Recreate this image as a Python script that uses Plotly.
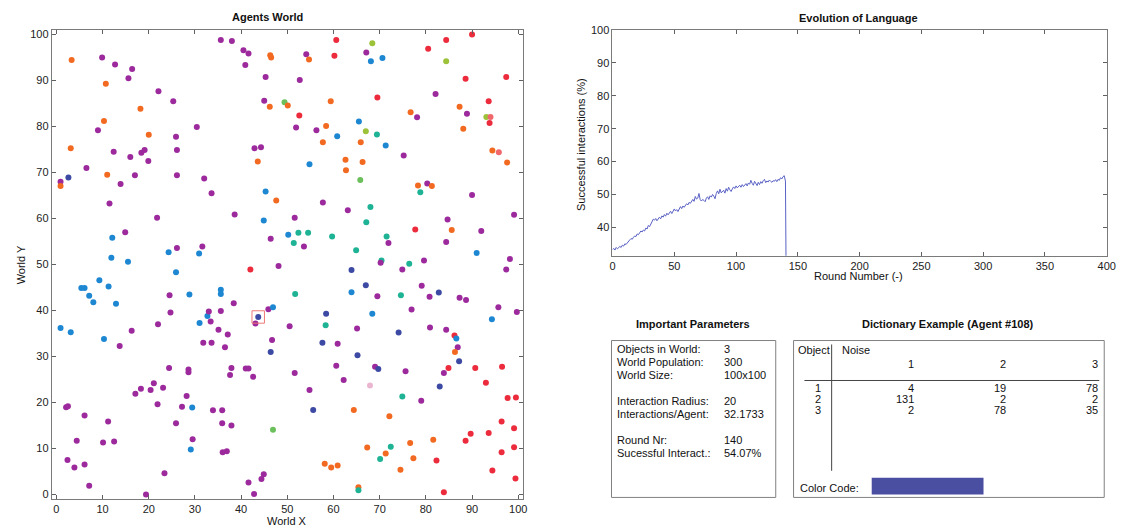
import plotly.graph_objects as go

# ---------------- data ----------------
# Agents world: x, y, word colour category
agent_x = [3.3,9.9,12.7,16.4,15.6,10.7,22.1,25.3,18.2,10.3,9.0,30.4,20.0,25.9,3.1,12.4,16.0,18.4,19.1,26.1,19.9,6.5,11.0,17.0,26.1,32.0,0.9,2.6,0.9,13.9,33.6,11.5,21.8,38.6,14.9,12.1,11.9,15.5,24.3,26.1,30.9,31.6,35.6,38.0,40.5,41.6,40.9,46.3,46.5,45.3,45.0,46.2,49.4,42.9,44.3,43.6,45.3,47.6,44.9,46.4,48.1,
           60.6,68.4,84.4,90.0,80.5,54.1,54.7,60.2,67.1,68.1,70.6,84.4,52.7,88.6,97.4,69.5,82.1,50.1,59.4,52.6,76.7,78.1,87.3,93.6,88.9,93.1,94.0,93.8,51.9,56.3,58.4,65.5,67.0,69.4,60.8,57.7,65.9,71.3,88.1,75.2,94.4,95.8,97.6,54.8,62.6,62.7,66.3,65.8,78.3,80.3,81.3,78.8,90.0,57.7,63.1,68.0,67.1,51.6,50.2,52.4,54.5,51.4,53.6,59.7,64.9,71.5,71.9,77.7,84.7,85.6,92.0,84.4,99.1,91.0,98.2,79.6,70.4,70.2,76.4,
           63.9,74.9,97.4,51.7,67.0,63.9,69.5,74.6,79.1,80.8,82.8,87.3,88.7,95.7,99.7,58.4,68.4,76.9,94.3,50.5,58.3,65.1,74.1,80.9,84.4,86.2,86.6,86.9,86.3,57.6,60.9,65.2,87.2,84.9,90.7,96.5,51.6,60.6,69.0,69.7,75.6,83.9,62.2,67.9,83.0,93.0,54.8,74.9,79.0,97.7,99.5,55.6,64.4,72.1,96.4,89.7,93.6,99.1,88.6,81.6,76.6,67.3,72.4,71.3,70.1,77.3,82.3,96.4,99.1,58.1,59.5,60.9,74.5,94.4,99.4,65.4,65.4,83.9,
           42.0,25.9,9.3,11.3,5.4,6.1,7.1,8.0,12.9,24.5,28.8,35.6,35.6,38.4,0.9,3.1,10.3,24.7,22.0,16.3,13.7,31.0,32.7,33.0,33.4,35.6,35.1,37.1,31.8,33.6,36.5,43.7,43.1,45.9,46.9,46.7,46.4,24.4,28.6,28.6,37.9,37.6,41.0,41.6,42.6,21.1,18.3,20.4,23.1,17.1,28.2,21.9,27.2,29.4,2.1,2.5,6.1,11.2,25.9,33.9,35.9,35.9,37.9,46.9,4.4,10.1,12.5,29.5,29.1,36.0,36.9,2.4,3.9,6.1,7.1,23.4,19.4,41.6,44.9,44.4,42.8]
agent_y = [94.5,95.0,93.5,92.5,90.5,89.3,87.7,85.5,83.9,81.2,79.2,79.9,78.2,77.8,75.3,74.5,73.4,74.3,74.9,74.9,72.5,71.0,69.5,69.4,69.4,68.7,68.0,68.9,67.1,67.5,65.5,63.3,60.2,60.9,57.0,55.8,51.5,50.6,52.7,53.6,52.4,53.9,98.8,98.6,96.6,95.9,93.4,95.5,95.0,90.8,85.6,84.3,85.3,75.3,75.5,72.4,65.9,63.9,59.6,55.6,49.7,
           98.8,98.1,98.8,100.0,96.9,95.7,94.6,95.4,96.1,94.2,94.9,94.2,90.1,90.4,90.8,86.3,87.1,84.6,85.5,82.4,83.1,82.0,84.3,85.5,82.8,82.1,82.1,80.8,79.8,79.2,80.1,81.1,79.0,78.3,77.9,76.6,76.6,75.9,79.5,73.7,74.8,74.4,72.2,71.8,72.8,70.5,72.3,68.4,67.2,67.6,67.1,65.7,65.1,63.5,61.8,62.5,59.2,60.2,56.5,56.9,56.9,54.7,53.9,56.1,53.1,56.1,54.7,57.6,59.8,57.5,57.3,54.9,60.8,52.5,51.2,50.9,50.9,50.4,50.2,
           48.8,48.9,48.9,43.6,45.5,44.0,43.1,43.3,45.4,43.0,43.9,42.8,42.3,40.7,39.7,39.3,39.3,40.2,38.1,36.6,36.8,36.1,35.2,36.3,35.8,34.6,33.9,32.0,31.0,33.0,32.8,30.3,29.0,27.5,27.5,27.8,26.4,28.0,27.8,27.3,26.8,26.4,24.9,23.7,23.5,24.3,22.7,21.3,20.4,21.0,21.1,18.4,18.4,17.0,15.9,13.2,13.4,14.4,11.7,11.9,11.2,10.2,10.4,8.9,7.7,7.9,7.4,9.2,10.3,6.7,5.9,6.3,5.4,5.2,3.5,1.6,0.9,0.5,
           48.9,48.3,46.6,45.2,44.9,44.9,43.2,41.8,41.5,43.3,43.5,44.5,43.6,41.6,36.2,35.3,33.8,39.6,37.0,35.6,32.3,37.3,38.8,39.8,37.6,39.9,35.8,34.8,33.0,33.0,32.0,38.6,37.2,40.3,40.7,33.6,31.0,27.5,27.2,26.6,27.5,26.0,27.4,27.4,25.6,24.2,23.0,22.7,23.2,21.9,21.4,19.6,19.1,18.9,19.0,19.2,17.2,15.9,15.5,18.3,18.3,15.5,15.0,14.1,11.7,11.3,11.5,12.0,9.8,9.2,9.4,7.5,5.9,6.5,1.9,4.6,0.0,2.6,4.4,3.4,0.1]
agent_word = list(
    "OPPPPOPPOO" "PPOPOPPPPP" "PPOPPPPIOP" "PPPPPBBBBP" "BPPPPPPOOP" "POGPPOBOBP" "P"
    "RYRRRPORPB" "BYPRRRPOOR" "OPORPYSRPP" "OBYTBOOBOP" "OSOBOOOGOP" "OTPPPTTPBT" "TTPTTTPRPO" "PPPBPPTPT"
    "IPPTIBPTPP" "IPPPPIBPBP" "TPIPPRBPOI" "PIIRRRPPPI" "PPPKIRPTPR" "RIOORRRRRO" "OOTOTORRRO" "OOORROTR"
    "RBBBBBBBBP" "BBBPBBBPPP" "PBBPPPPPPP" "PIPPBPIPPP" "PPPPPPPPPP" "PPPBPPPPPP" "PPPGPPPPBP" "PPPPPPPPPP" "P")

selected_agent = (43.7, 38.6)

# Evolution of language: success rate per round
rounds = list(range(0, 142))
success = [33.2,33.6,33.1,33.9,33.5,33.8,34.2,33.9,34.6,34.3,35.0,
           34.8,35.4,35.9,36.2,36.6,36.4,37.0,37.4,37.2,38.0,
           37.8,38.4,38.9,38.6,39.2,38.9,39.8,39.5,40.6,40.2,
           41.0,41.8,42.5,42.2,42.7,42.0,42.4,43.1,42.6,43.5,
           43.1,43.9,43.4,44.3,43.8,44.6,44.9,44.2,45.1,45.6,
           45.0,45.4,44.8,45.9,46.3,45.7,46.5,46.1,46.9,47.2,
           46.8,47.6,47.3,48.0,48.5,47.9,49.4,48.6,48.9,50.3,
           48.4,48.0,48.5,48.2,47.8,48.9,49.3,48.5,49.6,49.2,
           50.0,49.5,48.7,50.3,51.1,50.2,51.6,50.5,50.9,51.3,
           50.4,51.8,51.0,52.2,51.4,50.9,51.7,52.3,51.8,52.6,
           52.0,52.5,52.8,52.2,53.0,52.4,52.9,53.3,52.6,53.5,
           53.1,54.3,53.4,52.8,54.0,53.2,52.7,53.7,53.0,53.9,
           53.4,54.2,54.6,53.6,54.1,53.8,54.4,54.0,53.7,54.2,
           54.0,54.5,53.9,54.6,54.3,55.1,54.7,55.4,55.7,54.07,
           0.0]

# Parameters panel
param_labels = ["Objects in World:", "World Population:", "World Size:",
                "Interaction Radius:", "Interactions/Agent:",
                "Round Nr:", "Sucessful Interact.:"]
param_values = ["3", "300", "100x100", "20", "32.1733", "140", "54.07%"]

# Dictionary of agent #108
dict_objects = ["1", "2", "3"]
dict_words = ["1", "2", "3"]
dict_counts = [[4, 19, 78],
               [131, 2, 2],
               [2, 78, 35]]

world_ticks = list(range(0, 101, 10))
round_ticks = list(range(0, 401, 50))
success_ticks = list(range(40, 101, 10))

# ---------------- style ----------------
W, H = 1135, 531
FONT = "Liberation Sans, Arial, sans-serif"
word_colors = {"P": "#9C2A9D", "O": "#F26A22", "R": "#EC2B3C", "B": "#1E87D2",
               "I": "#3D4AA4", "T": "#1DB394", "G": "#6CC05B", "Y": "#9CC23A",
               "K": "#EAB6D0", "S": "#F0676C"}


def fx(px):
    return px / W


def fy(py):
    return 1 - py / H


fig = go.Figure()

fig.add_trace(go.Scatter(
    x=agent_x, y=agent_y, mode="markers",
    marker=dict(size=6, color=[word_colors[w] for w in agent_word], line=dict(width=0)),
    xaxis="x", yaxis="y", hoverinfo="skip"))

fig.add_trace(go.Scatter(
    x=rounds, y=success, mode="lines",
    line=dict(color="#5A62C4", width=1),
    xaxis="x2", yaxis="y2", hoverinfo="skip"))

axis_common = dict(showgrid=False, zeroline=False, showline=True, linecolor="#7A7A7A",
                   linewidth=1, mirror="ticks", ticks="inside", ticklen=4,
                   tickcolor="#606060", tickfont=dict(family=FONT, size=11, color="#222"))

fig.update_layout(
    width=W, height=H, margin=dict(l=0, r=0, t=0, b=0),
    paper_bgcolor="white", plot_bgcolor="white", showlegend=False,
    xaxis=dict(domain=[fx(49.3), fx(525.4)], range=[-1, 101], tickvals=world_ticks,
               anchor="y", **axis_common),
    yaxis=dict(domain=[fy(499.7), fy(24.3)], range=[-1, 101], tickvals=world_ticks,
               anchor="x", **axis_common),
    xaxis2=dict(domain=[fx(616), fx(1115.5)], range=[0, 400], tickvals=round_ticks,
                anchor="y2", **axis_common),
    yaxis2=dict(domain=[fy(253), fy(24.3)], range=[31.4, 100], tickvals=success_ticks,
                anchor="x2", **axis_common),
)

shapes = []
# selected agent marker
shapes.append(dict(type="rect", xref="x", yref="y",
                   x0=selected_agent[0] - 1.35, x1=selected_agent[0] + 1.35,
                   y0=selected_agent[1] - 1.35, y1=selected_agent[1] + 1.35,
                   line=dict(color="#EE7777", width=1)))
# parameter box and dictionary box
for x0, x1 in [(615, 781), (799, 1113)]:
    shapes.append(dict(type="rect", xref="paper", yref="paper",
                       x0=fx(x0), x1=fx(x1), y0=fy(498), y1=fy(339),
                       line=dict(color="#808080", width=1)))
shapes.append(dict(type="line", xref="paper", yref="paper",
                   x0=fx(837.5), x1=fx(837.5), y0=fy(343), y1=fy(471),
                   line=dict(color="#444", width=1)))
shapes.append(dict(type="line", xref="paper", yref="paper",
                   x0=fx(810), x1=fx(1108), y0=fy(379.5), y1=fy(379.5),
                   line=dict(color="#444", width=1)))
shapes.append(dict(type="rect", xref="paper", yref="paper",
                   x0=fx(878), x1=fx(991), y0=fy(495), y1=fy(478),
                   fillcolor="#4A4FA2", line=dict(width=0)))
fig.update_layout(shapes=shapes)

ann = []


def text(px, py, s, size=11, xanchor="center", bold=False, angle=0):
    ann.append(dict(xref="paper", yref="paper", x=fx(px), y=fy(py),
                    text=f"<b>{s}</b>" if bold else s, showarrow=False,
                    xanchor=xanchor, yanchor="middle", textangle=angle,
                    font=dict(family=FONT, size=size, color="#111")))


text(267, 11, "Agents World", bold=True)
text(287, 522, "World X")
text(18, 262, "World Y", angle=-90)
text(865, 12, "Evolution of Language", bold=True)
text(865, 274, "Round Number (-)")
text(584, 140, "Successful interactions (%)", angle=-90)
text(697, 322, "Important Parameters", bold=True)
text(955, 322, "Dictionary Example (Agent #108)", bold=True)

param_rows_y = [347.5, 360.5, 373.5, 400, 413, 439.5, 452.5]
for lab, val, py in zip(param_labels, param_values, param_rows_y):
    text(619, py, lab, xanchor="left")
    text(727, py, val, xanchor="left")

text(801, 348.5, "Object", xanchor="left")
text(846, 348.5, "Noise", xanchor="left")
col_right = [923, 1016, 1109]
for w, cx in zip(dict_words, col_right):
    text(cx, 362.5, w, xanchor="right")
row_y = [387, 398, 409]
for obj, counts, py in zip(dict_objects, dict_counts, row_y):
    text(829, py, obj, xanchor="right")
    for c, cx in zip(counts, col_right):
        text(cx, py, str(c), xanchor="right")
text(803, 488, "Color Code:", xanchor="left")

fig.update_layout(annotations=ann)
fig.write_html("out.html")
